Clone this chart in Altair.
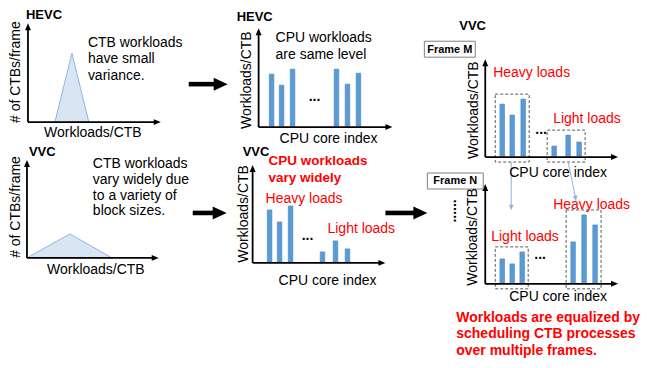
import altair as alt
import pandas as pd

# ---------------- data ----------------
hevc_core_loads = [53, 42, 58, 58, 43, 54]
vvc_core_loads = [53, 41, 57, 11, 22, 14]
frame_m_core_loads = [53, 42, 58, 11, 22, 15]
frame_n_core_loads = [25, 20, 32, 42, 69, 59]

hevc_hist_workload = [27, 44, 61]
hevc_hist_count = [0, 69, 0]
vvc_hist_workload = [0, 43, 85]
vvc_hist_count = [0, 24, 0]

txt_hevc_note = "CTB workloads\nhave small\nvariance."
txt_vvc_note = "CTB workloads\nvary widely due\nto a variety of\nblock sizes."
txt_cpu_same = "CPU workloads\nare same level"
txt_cpu_vary = "CPU workloads\nvary widely"
txt_conclusion = "Workloads are equalized by\nscheduling CTB processes\nover multiple frames."
txt_hist_y = "# of CTBs/frame"
txt_hist_x = "Workloads/CTB"
txt_bar_y = "Workloads/CTB"
txt_bar_x = "CPU core index"
txt_heavy = "Heavy loads"
txt_light = "Light loads"

# ---------------- layout (pixel positions of panels) ----------------
panels = {
    "A": dict(ox=27, oy=122, top=23, right=160),
    "B": dict(ox=26, oy=258, top=160, right=158),
    "C": dict(ox=258, oy=127, top=28, right=392),
    "D": dict(ox=252, oy=263, top=165, right=385),
    "E": dict(ox=485, oy=157, top=59, right=618),
    "F": dict(ox=485, oy=284, top=184, right=618),
}
bar_offsets = {
    "C": [13, 23, 34, 78, 89, 100],
    "D": [17, 27, 38, 70, 83, 95],
    "E": [17, 27, 38, 69, 83, 94],
    "F": [17, 27, 37, 88, 99, 110],
}
bar_values = {"C": hevc_core_loads, "D": vvc_core_loads,
              "E": frame_m_core_loads, "F": frame_n_core_loads}
BAR_W = 4.6

W, H = 642, 352
xs = alt.Scale(domain=[8, 8 + W], range=[0, W], nice=False, zero=False)
ys = alt.Scale(domain=[8, 8 + H], range=[0, H], nice=False, zero=False)
X = lambda f="x": alt.X(f"{f}:Q", scale=xs, axis=None)
Y = lambda f="y": alt.Y(f"{f}:Q", scale=ys, axis=None)

RED = "#ff0000"
BLUE = "#5b9bd5"
FONT = "Liberation Sans"

# ---------------- bars ----------------
rows = []
for p, offs in bar_offsets.items():
    g = panels[p]
    for off, v in zip(offs, bar_values[p]):
        c = g["ox"] + off
        rows.append(dict(x=c - BAR_W / 2, x2=c + BAR_W / 2, y=g["oy"] - v, y2=g["oy"] - 1))
bars_df = pd.DataFrame(rows)
bars = alt.Chart(bars_df).mark_rect(color=BLUE, stroke="#4a84c0", strokeWidth=0.6).encode(
    x=X(), x2="x2:Q", y=Y(), y2="y2:Q")

# ---------------- histogram triangles ----------------
tri_rows = []
for p, ws, cs in [("A", hevc_hist_workload, hevc_hist_count), ("B", vvc_hist_workload, vvc_hist_count)]:
    g = panels[p]
    for w, c in zip(ws, cs):
        tri_rows.append(dict(panel=p, x=g["ox"] + w, y=g["oy"] - c, y2=g["oy"]))
tri = alt.Chart(pd.DataFrame(tri_rows)).mark_area(
    fill="#dae5f4", stroke="#8eb4e3", strokeWidth=1).encode(
    x=X(), y=Y(), y2="y2:Q", detail="panel:N")

# ---------------- dashed group boxes (around bar groups) ----------------
box_rows = []
for p in ["E", "F"]:
    g = panels[p]
    for grp in [(0, 3), (3, 6)]:
        offs = bar_offsets[p][grp[0]:grp[1]]
        vals = bar_values[p][grp[0]:grp[1]]
        box_rows.append(dict(x=g["ox"] + offs[0] - 7, x2=g["ox"] + offs[-1] + 6,
                             y=g["oy"] - max(vals) - 5, y2=g["oy"] + 5))
boxes = alt.Chart(pd.DataFrame(box_rows)).mark_rect(
    fill=None, stroke="#595959", strokeWidth=1, strokeDash=[3, 2]).encode(
    x=X(), x2="x2:Q", y=Y(), y2="y2:Q")

# ---------------- axes ----------------
ax_rows, ax_heads = [], []
for p, g in panels.items():
    ax_rows.append(dict(x=g["ox"], y=g["oy"], x2=g["ox"], y2=g["top"] + 5))
    ax_rows.append(dict(x=g["ox"], y=g["oy"], x2=g["right"] - 5, y2=g["oy"]))
    ax_heads.append(dict(x=g["ox"], y=g["top"] + 3.5, angle=0))
    ax_heads.append(dict(x=g["right"] - 3.5, y=g["oy"], angle=90))
axes = alt.Chart(pd.DataFrame(ax_rows)).mark_rule(color="black", strokeWidth=1.8).encode(
    x=X(), x2="x2:Q", y=Y(), y2="y2:Q")
TRI_UP = "M-0.85,1L0,-1L0.85,1Z"
axheads = alt.Chart(pd.DataFrame(ax_heads)).mark_point(
    shape=TRI_UP, filled=True, color="black", size=49, strokeWidth=0, opacity=1).encode(
    x=X(), y=Y(), angle=alt.Angle("angle:Q", scale=None))

# ---------------- big black arrows ----------------
big = [(188, 227, 84), (192, 226, 213), (385, 427, 213)]
big_df = pd.DataFrame([dict(x=a, x2=b - 12, y=yy, y2=yy) for a, b, yy in big])
big_heads = pd.DataFrame([dict(x=b - 7, y=yy, angle=90) for a, b, yy in big])
big_shafts = alt.Chart(big_df).mark_rule(color="black", strokeWidth=4.6).encode(
    x=X(), x2="x2:Q", y=Y(), y2="y2:Q")
big_tips = alt.Chart(big_heads).mark_point(
    shape="M-0.93,1L0,-1L0.93,1Z", filled=True, color="black", size=196, strokeWidth=0, opacity=1).encode(
    x=X(), y=Y(), angle=alt.Angle("angle:Q", scale=None))

# ---------------- light-blue connectors ----------------
LB = "#8db3e2"
con_df = pd.DataFrame([dict(x=511, y=162, x2=511, y2=206), dict(x=568, y=162, x2=575.3, y2=197)])
con_heads = pd.DataFrame([dict(x=511, y=207.5, angle=180), dict(x=575.5, y=198.5, angle=169.6)])
cons = alt.Chart(con_df).mark_rule(color=LB, strokeWidth=1).encode(
    x=X(), x2="x2:Q", y=Y(), y2="y2:Q")
con_tips = alt.Chart(con_heads).mark_point(
    shape=TRI_UP, filled=True, color=LB, size=30, strokeWidth=0, opacity=1).encode(
    x=X(), y=Y(), angle=alt.Angle("angle:Q", scale=None))

# ---------------- frame label boxes ----------------
frames_df = pd.DataFrame([
    dict(x=424, x2=475, y=41, y2=57, cx=449.5, cy=49.5, label="Frame M"),
    dict(x=427, x2=483, y=173, y2=189, cx=455, cy=181.5, label="Frame N"),
])
frame_boxes = alt.Chart(frames_df).mark_rect(fill="white", stroke="#7f7f7f", strokeWidth=1).encode(
    x=X(), x2="x2:Q", y=Y(), y2="y2:Q")
frame_text = alt.Chart(frames_df).mark_text(
    font=FONT, fontSize=11, fontWeight="bold", color="black", align="center", baseline="middle").encode(
    x=X("cx"), y=Y("cy"), text="label:N")


# ---------------- texts ----------------
def lines(items):
    out = []
    for s, x, y, step in items:
        for i, ln in enumerate(s.split("\n")):
            out.append(dict(text=ln, x=x, y=y + i * step))
    return pd.DataFrame(out)


def tlayer(df, **kw):
    base = dict(font=FONT, baseline="middle")
    base.update(kw)
    return alt.Chart(df).mark_text(**base).encode(x=X(), y=Y(), text="text:N")


t_black_left = tlayer(lines([
    (txt_hevc_note, 87, 43, 16.3),
    (txt_vvc_note, 92, 164, 15.8),
    (txt_cpu_same, 275, 38, 17),
]), fontSize=14, align="left", color="black")

t_black_center = tlayer(lines([
    (txt_hist_x, 92, 133, 0), (txt_hist_x, 95, 270, 0),
    (txt_bar_x, 328, 139, 0), (txt_bar_x, 327, 281, 0),
    (txt_bar_x, 558, 173, 0), (txt_bar_x, 558, 297, 0),
]), fontSize=14, align="center", color="black")

t_rot = tlayer(lines([
    (txt_hist_y, 15, 72, 0), (txt_hist_y, 15, 207, 0),
    (txt_bar_y, 246, 80, 0), (txt_bar_y, 243, 214, 0),
    (txt_bar_y, 474, 110, 0), (txt_bar_y, 473, 237, 0),
]), fontSize=14, align="center", color="black", angle=270)

t_codec = tlayer(lines([
    ("HEVC", 25, 15, 0), ("VVC", 28, 152, 0), ("HEVC", 236, 17, 0),
    ("VVC", 242, 152, 0), ("VVC", 459, 26, 0),
]), fontSize=13, fontWeight="bold", align="left", color="black")

t_red = tlayer(lines([
    (txt_heavy, 265, 199, 0), (txt_light, 327, 229, 0),
    (txt_heavy, 493, 73, 0), (txt_light, 553, 119, 0),
    (txt_heavy, 553, 205, 0), (txt_light, 491, 237, 0),
]), fontSize=14, align="left", color=RED)

t_red_bold = tlayer(lines([(txt_cpu_vary, 268, 161, 17)]),
                    fontSize=13.5, fontWeight="bold", align="left", color=RED)
t_concl = tlayer(lines([(txt_conclusion, 456, 318, 16.7)]),
                 fontSize=14, fontWeight="bold", align="left", color=RED)

t_ell = tlayer(lines([("...", 314, 100.5, 0), ("...", 307, 240.5, 0),
                      ("...", 541, 133.5, 0), ("...", 540, 259.5, 0)]),
               fontSize=14, fontWeight="bold", align="center", baseline="alphabetic", color="black")
t_vdots = tlayer(lines([("......", 452, 211, 0)]),
                 fontSize=14, fontWeight="bold", align="center", angle=270, color="black")

chart = alt.layer(
    tri, bars, boxes, axes, axheads, big_shafts, big_tips, cons, con_tips,
    frame_boxes, frame_text,
    t_black_left, t_black_center, t_rot, t_codec, t_red, t_red_bold, t_concl, t_ell, t_vdots,
).properties(width=W, height=H, padding=0, background="white").configure_view(stroke=None)

chart.save("out.html", embed_options={"renderer": "svg", "actions": False})
